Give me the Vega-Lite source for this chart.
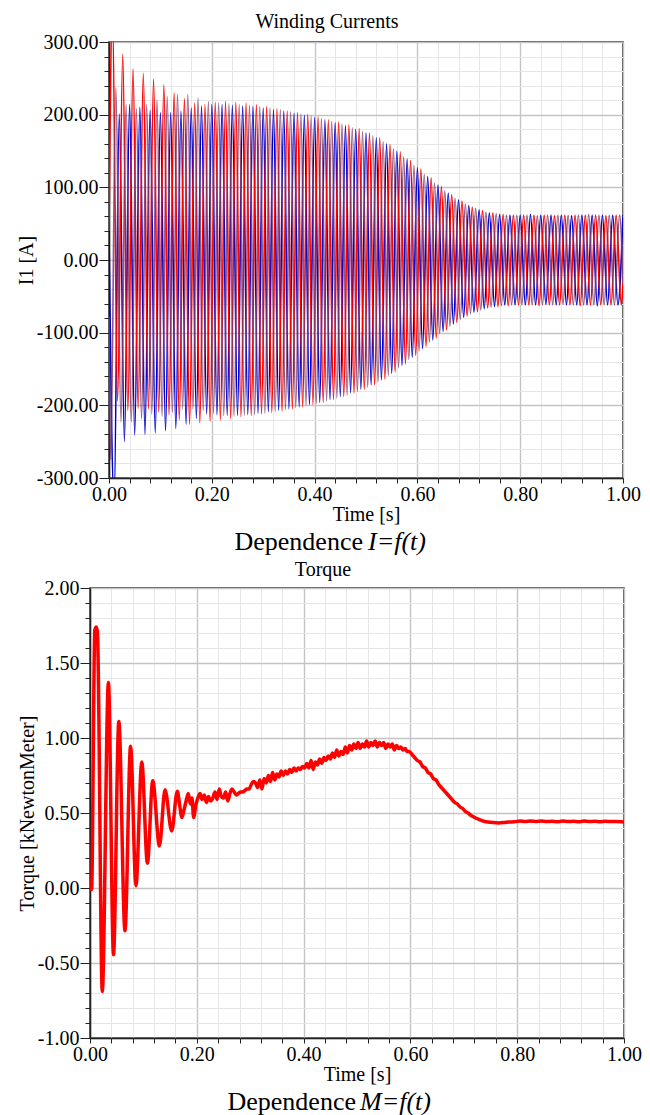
{
"$schema": "https://vega.github.io/schema/vega-lite/v6.json",
"padding": {"left": 15, "top": 11, "right": 0, "bottom": 0},
"background": "white",
"spacing": 0,
"config": {
  "font": "Liberation Serif",
  "view": {"stroke": "#222", "strokeWidth": 1.5},
  "axis": {"labelFont": "Liberation Serif", "labelFontSize": 20, "labelColor": "#000", "titleFont": "Liberation Serif", "titleFontSize": 20, "titleFontWeight": "normal", "titleColor": "#000", "domainColor": "#222", "domainWidth": 1.5, "tickColor": "#222", "tickWidth": 1, "grid": true, "labelOverlap": false, "labelFlush": false, "labelBound": false},
  "title": {"font": "Liberation Serif", "fontSize": 20, "fontWeight": "normal", "color": "#000", "anchor": "middle"}
},
"vconcat": [
{"spacing": -76, "hconcat": [
{"width": 1, "height": 1, "view": {"stroke": null}, "data": {"values": [{"a": ""}]}, "mark": {"type": "text"}, "encoding": {"text": {"field": "a"}}},
{
  "width": 514, "height": 436,
  "title": {"text": "Winding Currents", "dx": -39, "offset": 0},
  "encoding": {
    "x": {"field": "t", "type": "quantitative", "scale": {"domain": [0, 1], "nice": false, "zero": false},
      "axis": {"title": "Time [s]", "values": [0,0.04,0.08,0.12,0.16,0.2,0.24,0.28,0.32,0.36,0.4,0.44,0.48,0.52,0.56,0.6,0.64,0.68,0.72,0.76,0.8,0.84,0.88,0.92,0.96,1],
        "labelExpr": "abs(datum.value*5-round(datum.value*5))<0.001 ? format(datum.value,'.2f') : ''",
        "labelPadding": 1, "tickSize": 5, "titlePadding": 0,
        "gridColor": {"condition": {"test": "abs(datum.value*5-round(datum.value*5))<0.001", "value": "#c4c4c4"}, "value": "#e6e6e6"},
        "gridWidth": {"condition": {"test": "abs(datum.value*5-round(datum.value*5))<0.001", "value": 1.4}, "value": 1}}},
    "y": {"field": "i", "type": "quantitative", "scale": {"domain": [-300, 300], "nice": false},
      "axis": {"title": "I1 [A]", "values": [-300,-280,-260,-240,-220,-200,-180,-160,-140,-120,-100,-80,-60,-40,-20,0,20,40,60,80,100,120,140,160,180,200,220,240,260,280,300],
        "labelExpr": "abs(datum.value/100-round(datum.value/100))<0.001 ? (datum.value<0 ? '-' : '') + format(abs(datum.value),'.2f') : ''",
        "labelPadding": 1, "titlePadding": 0,
        "tickSize": {"condition": {"test": "abs(datum.value/100-round(datum.value/100))<0.001", "value": 10}, "value": 5},
        "gridColor": {"condition": {"test": "abs(datum.value/100-round(datum.value/100))<0.001", "value": "#c4c4c4"}, "value": "#e6e6e6"},
        "gridWidth": {"condition": {"test": "abs(datum.value/100-round(datum.value/100))<0.001", "value": 1.4}, "value": 1}}}
  },
  "layer": [
    {"data": {"values": [{"t":0,"i":38},{"t":0.01,"i":-335},{"t":0.02,"i":201},{"t":0.03,"i":-250},{"t":0.04,"i":214},{"t":0.05,"i":-241},{"t":0.06,"i":210},{"t":0.07,"i":-240},{"t":0.08,"i":206},{"t":0.09,"i":-238},{"t":0.1,"i":203},{"t":0.11,"i":-235},{"t":0.12,"i":203},{"t":0.13,"i":-232},{"t":0.14,"i":205},{"t":0.15,"i":-226},{"t":0.16,"i":209},{"t":0.17,"i":-218},{"t":0.18,"i":212},{"t":0.19,"i":-212},{"t":0.2,"i":214},{"t":0.21,"i":-213},{"t":0.22,"i":214},{"t":0.23,"i":-214},{"t":0.24,"i":213},{"t":0.25,"i":-214},{"t":0.26,"i":212},{"t":0.27,"i":-213},{"t":0.28,"i":211},{"t":0.29,"i":-211},{"t":0.3,"i":209},{"t":0.31,"i":-209},{"t":0.32,"i":207},{"t":0.33,"i":-207},{"t":0.34,"i":205},{"t":0.35,"i":-205},{"t":0.36,"i":202},{"t":0.37,"i":-202},{"t":0.38,"i":199},{"t":0.39,"i":-199},{"t":0.4,"i":196},{"t":0.41,"i":-196},{"t":0.42,"i":193},{"t":0.43,"i":-192},{"t":0.44,"i":189},{"t":0.45,"i":-188},{"t":0.46,"i":185},{"t":0.47,"i":-183},{"t":0.48,"i":180},{"t":0.49,"i":-178},{"t":0.5,"i":175},{"t":0.51,"i":-172},{"t":0.52,"i":168},{"t":0.53,"i":-165},{"t":0.54,"i":160},{"t":0.55,"i":-156},{"t":0.56,"i":150},{"t":0.57,"i":-145},{"t":0.58,"i":139},{"t":0.59,"i":-134},{"t":0.6,"i":127},{"t":0.61,"i":-122},{"t":0.62,"i":115},{"t":0.63,"i":-110},{"t":0.64,"i":103},{"t":0.65,"i":-98},{"t":0.66,"i":92},{"t":0.67,"i":-88},{"t":0.68,"i":83},{"t":0.69,"i":-79},{"t":0.7,"i":75},{"t":0.71,"i":-72},{"t":0.72,"i":69},{"t":0.73,"i":-67},{"t":0.74,"i":65},{"t":0.75,"i":-64},{"t":0.76,"i":63},{"t":0.77,"i":-62},{"t":0.78,"i":62},{"t":0.79,"i":-62},{"t":0.8,"i":62},{"t":0.81,"i":-62},{"t":0.82,"i":63},{"t":0.83,"i":-62},{"t":0.84,"i":62},{"t":0.85,"i":-61},{"t":0.86,"i":62},{"t":0.87,"i":-62},{"t":0.88,"i":62},{"t":0.89,"i":-62},{"t":0.9,"i":61},{"t":0.91,"i":-62},{"t":0.92,"i":62},{"t":0.93,"i":-62},{"t":0.94,"i":62},{"t":0.95,"i":-63},{"t":0.96,"i":62},{"t":0.97,"i":-62},{"t":0.98,"i":62},{"t":0.99,"i":-62},{"t":1,"i":62}]},
     "mark": {"type": "line", "color": "#0000CC", "strokeWidth": 1.6, "interpolate": "monotone", "clip": true}},
    {"data": {"values": [{"t":0,"i":40},{"t":0.0067,"i":345},{"t":0.0167,"i":-194},{"t":0.0267,"i":283},{"t":0.0367,"i":-207},{"t":0.0467,"i":263},{"t":0.0567,"i":-204},{"t":0.0667,"i":257},{"t":0.0767,"i":-205},{"t":0.0867,"i":249},{"t":0.0967,"i":-209},{"t":0.1067,"i":241},{"t":0.1167,"i":-213},{"t":0.1267,"i":230},{"t":0.1367,"i":-220},{"t":0.1467,"i":222},{"t":0.1567,"i":-226},{"t":0.1667,"i":216},{"t":0.1767,"i":-224},{"t":0.1867,"i":214},{"t":0.1967,"i":-222},{"t":0.2067,"i":217},{"t":0.2167,"i":-220},{"t":0.2267,"i":218},{"t":0.2367,"i":-218},{"t":0.2467,"i":217},{"t":0.2567,"i":-216},{"t":0.2667,"i":216},{"t":0.2767,"i":-214},{"t":0.2867,"i":214},{"t":0.2967,"i":-212},{"t":0.3067,"i":211},{"t":0.3167,"i":-210},{"t":0.3267,"i":208},{"t":0.3367,"i":-208},{"t":0.3467,"i":205},{"t":0.3567,"i":-205},{"t":0.3667,"i":203},{"t":0.3767,"i":-202},{"t":0.3867,"i":200},{"t":0.3967,"i":-199},{"t":0.4067,"i":197},{"t":0.4167,"i":-196},{"t":0.4267,"i":193},{"t":0.4367,"i":-192},{"t":0.4467,"i":190},{"t":0.4567,"i":-188},{"t":0.4667,"i":186},{"t":0.4767,"i":-183},{"t":0.4867,"i":181},{"t":0.4967,"i":-178},{"t":0.5067,"i":175},{"t":0.5167,"i":-172},{"t":0.5267,"i":168},{"t":0.5367,"i":-164},{"t":0.5467,"i":159},{"t":0.5567,"i":-154},{"t":0.5667,"i":149},{"t":0.5767,"i":-143},{"t":0.5867,"i":137},{"t":0.5967,"i":-131},{"t":0.6067,"i":125},{"t":0.6167,"i":-119},{"t":0.6267,"i":113},{"t":0.6367,"i":-107},{"t":0.6467,"i":101},{"t":0.6567,"i":-96},{"t":0.6667,"i":90},{"t":0.6767,"i":-86},{"t":0.6867,"i":81},{"t":0.6967,"i":-77},{"t":0.7067,"i":73},{"t":0.7167,"i":-71},{"t":0.7267,"i":68},{"t":0.7367,"i":-66},{"t":0.7467,"i":65},{"t":0.7567,"i":-64},{"t":0.7667,"i":63},{"t":0.7767,"i":-63},{"t":0.7867,"i":62},{"t":0.7967,"i":-62},{"t":0.8067,"i":62},{"t":0.8167,"i":-62},{"t":0.8267,"i":62},{"t":0.8367,"i":-63},{"t":0.8467,"i":62},{"t":0.8567,"i":-62},{"t":0.8667,"i":61},{"t":0.8767,"i":-62},{"t":0.8867,"i":62},{"t":0.8967,"i":-62},{"t":0.9067,"i":62},{"t":0.9167,"i":-63},{"t":0.9267,"i":62},{"t":0.9367,"i":-62},{"t":0.9467,"i":62},{"t":0.9567,"i":-62},{"t":0.9667,"i":61},{"t":0.9767,"i":-62},{"t":0.9867,"i":62},{"t":0.9967,"i":-62},{"t":1,"i":-31}]},
     "mark": {"type": "line", "color": "#FF0000", "strokeWidth": 1.6, "interpolate": "monotone", "clip": true}},
    {"data": {"values": [{"t":0,"i":-78},{"t":0.0033,"i":-275},{"t":0.0133,"i":237},{"t":0.0233,"i":-223},{"t":0.0333,"i":214},{"t":0.0433,"i":-223},{"t":0.0533,"i":208},{"t":0.0633,"i":-219},{"t":0.0733,"i":214},{"t":0.0833,"i":-212},{"t":0.0933,"i":220},{"t":0.1033,"i":-215},{"t":0.1133,"i":225},{"t":0.1233,"i":-210},{"t":0.1333,"i":228},{"t":0.1433,"i":-205},{"t":0.1533,"i":228},{"t":0.1633,"i":-205},{"t":0.1733,"i":223},{"t":0.1833,"i":-207},{"t":0.1933,"i":218},{"t":0.2033,"i":-211},{"t":0.2133,"i":216},{"t":0.2233,"i":-214},{"t":0.2333,"i":215},{"t":0.2433,"i":-215},{"t":0.2533,"i":214},{"t":0.2633,"i":-214},{"t":0.2733,"i":213},{"t":0.2833,"i":-213},{"t":0.2933,"i":211},{"t":0.3033,"i":-211},{"t":0.3133,"i":209},{"t":0.3233,"i":-209},{"t":0.3333,"i":207},{"t":0.3433,"i":-206},{"t":0.3533,"i":204},{"t":0.3633,"i":-203},{"t":0.3733,"i":201},{"t":0.3833,"i":-200},{"t":0.3933,"i":198},{"t":0.4033,"i":-197},{"t":0.4133,"i":195},{"t":0.4233,"i":-194},{"t":0.4333,"i":191},{"t":0.4433,"i":-190},{"t":0.4533,"i":187},{"t":0.4633,"i":-186},{"t":0.4733,"i":182},{"t":0.4833,"i":-181},{"t":0.4933,"i":177},{"t":0.5033,"i":-175},{"t":0.5133,"i":171},{"t":0.5233,"i":-168},{"t":0.5333,"i":163},{"t":0.5433,"i":-159},{"t":0.5533,"i":153},{"t":0.5633,"i":-148},{"t":0.5733,"i":142},{"t":0.5833,"i":-137},{"t":0.5933,"i":130},{"t":0.6033,"i":-125},{"t":0.6133,"i":118},{"t":0.6233,"i":-113},{"t":0.6333,"i":106},{"t":0.6433,"i":-101},{"t":0.6533,"i":95},{"t":0.6633,"i":-91},{"t":0.6733,"i":85},{"t":0.6833,"i":-82},{"t":0.6933,"i":77},{"t":0.7033,"i":-74},{"t":0.7133,"i":71},{"t":0.7233,"i":-69},{"t":0.7333,"i":66},{"t":0.7433,"i":-65},{"t":0.7533,"i":64},{"t":0.7633,"i":-63},{"t":0.7733,"i":62},{"t":0.7833,"i":-62},{"t":0.7933,"i":62},{"t":0.8033,"i":-62},{"t":0.8133,"i":62},{"t":0.8233,"i":-62},{"t":0.8333,"i":61},{"t":0.8433,"i":-62},{"t":0.8533,"i":62},{"t":0.8633,"i":-62},{"t":0.8733,"i":62},{"t":0.8833,"i":-61},{"t":0.8933,"i":62},{"t":0.9033,"i":-62},{"t":0.9133,"i":62},{"t":0.9233,"i":-62},{"t":0.9333,"i":63},{"t":0.9433,"i":-62},{"t":0.9533,"i":62},{"t":0.9633,"i":-62},{"t":0.9733,"i":62},{"t":0.9833,"i":-62},{"t":0.9933,"i":62},{"t":1,"i":-31}]},
     "mark": {"type": "line", "color": "#7E3A6A", "opacity": 0.85, "strokeWidth": 1.6, "interpolate": "monotone", "clip": true}}
  ]
}]},
{
  "width": 490, "height": 34,
  "view": {"stroke": null},
  "data": {"values": [{"a": "Dependence", "b": "I=f(t)"}]},
  "layer": [
    {"mark": {"type": "text", "align": "right", "baseline": "middle", "fontSize": 26, "font": "Liberation Serif", "color": "#000", "dx": 28}, "encoding": {"text": {"field": "a"}}},
    {"mark": {"type": "text", "align": "left", "baseline": "middle", "fontSize": 26, "font": "Liberation Serif", "fontStyle": "italic", "color": "#000", "dx": 33}, "encoding": {"text": {"field": "b"}}}
  ]
},
{"hconcat": [
{
  "width": 534, "height": 450,
  "title": {"text": "Torque", "dx": -34, "offset": -2},
  "data": {"values": [{"t":0,"m":0},{"t":0.003,"m":-0.01},{"t":0.009,"m":1.72},{"t":0.012,"m":1.74},{"t":0.014,"m":1.7},{"t":0.023,"m":-0.69},{"t":0.0345,"m":1.37},{"t":0.044,"m":-0.445},{"t":0.054,"m":1.11},{"t":0.0655,"m":-0.285},{"t":0.076,"m":0.945},{"t":0.086,"m":0.015},{"t":0.097,"m":0.84},{"t":0.1075,"m":0.165},{"t":0.1175,"m":0.715},{"t":0.13,"m":0.28},{"t":0.1405,"m":0.655},{"t":0.153,"m":0.38},{"t":0.1635,"m":0.645},{"t":0.168,"m":0.55},{"t":0.172,"m":0.47},{"t":0.176,"m":0.52},{"t":0.18,"m":0.58},{"t":0.184,"m":0.63},{"t":0.188,"m":0.56},{"t":0.191,"m":0.6},{"t":0.194,"m":0.47},{"t":0.198,"m":0.55},{"t":0.202,"m":0.6},{"t":0.206,"m":0.63},{"t":0.21,"m":0.59},{"t":0.214,"m":0.62},{"t":0.218,"m":0.57},{"t":0.222,"m":0.61},{"t":0.226,"m":0.58},{"t":0.23,"m":0.6},{"t":0.234,"m":0.64},{"t":0.238,"m":0.59},{"t":0.242,"m":0.66},{"t":0.246,"m":0.61},{"t":0.25,"m":0.6},{"t":0.254,"m":0.64},{"t":0.258,"m":0.58},{"t":0.262,"m":0.63},{"t":0.266,"m":0.66},{"t":0.27,"m":0.64},{"t":0.274,"m":0.62},{"t":0.278,"m":0.63},{"t":0.282,"m":0.64},{"t":0.286,"m":0.64},{"t":0.29,"m":0.65},{"t":0.294,"m":0.66},{"t":0.298,"m":0.66},{"t":0.302,"m":0.69},{"t":0.306,"m":0.71},{"t":0.31,"m":0.7},{"t":0.314,"m":0.67},{"t":0.318,"m":0.72},{"t":0.322,"m":0.66},{"t":0.326,"m":0.73},{"t":0.33,"m":0.7},{"t":0.334,"m":0.75},{"t":0.338,"m":0.71},{"t":0.342,"m":0.77},{"t":0.346,"m":0.72},{"t":0.35,"m":0.76},{"t":0.354,"m":0.74},{"t":0.358,"m":0.78},{"t":0.362,"m":0.75},{"t":0.366,"m":0.78},{"t":0.37,"m":0.76},{"t":0.374,"m":0.79},{"t":0.378,"m":0.77},{"t":0.382,"m":0.8},{"t":0.386,"m":0.78},{"t":0.39,"m":0.8},{"t":0.394,"m":0.79},{"t":0.398,"m":0.81},{"t":0.402,"m":0.8},{"t":0.406,"m":0.83},{"t":0.41,"m":0.8},{"t":0.414,"m":0.85},{"t":0.418,"m":0.79},{"t":0.422,"m":0.84},{"t":0.426,"m":0.82},{"t":0.43,"m":0.86},{"t":0.434,"m":0.83},{"t":0.438,"m":0.87},{"t":0.442,"m":0.85},{"t":0.446,"m":0.88},{"t":0.45,"m":0.86},{"t":0.454,"m":0.9},{"t":0.458,"m":0.87},{"t":0.462,"m":0.92},{"t":0.466,"m":0.88},{"t":0.47,"m":0.91},{"t":0.474,"m":0.89},{"t":0.478,"m":0.94},{"t":0.482,"m":0.9},{"t":0.486,"m":0.95},{"t":0.49,"m":0.92},{"t":0.494,"m":0.96},{"t":0.498,"m":0.93},{"t":0.502,"m":0.97},{"t":0.506,"m":0.93},{"t":0.51,"m":0.96},{"t":0.514,"m":0.94},{"t":0.518,"m":0.98},{"t":0.522,"m":0.94},{"t":0.526,"m":0.97},{"t":0.53,"m":0.95},{"t":0.534,"m":0.98},{"t":0.538,"m":0.94},{"t":0.542,"m":0.97},{"t":0.546,"m":0.95},{"t":0.55,"m":0.97},{"t":0.554,"m":0.93},{"t":0.558,"m":0.96},{"t":0.562,"m":0.94},{"t":0.566,"m":0.96},{"t":0.57,"m":0.92},{"t":0.574,"m":0.95},{"t":0.578,"m":0.93},{"t":0.582,"m":0.94},{"t":0.586,"m":0.92},{"t":0.59,"m":0.93},{"t":0.594,"m":0.91},{"t":0.598,"m":0.91},{"t":0.603,"m":0.89},{"t":0.608,"m":0.87},{"t":0.613,"m":0.85},{"t":0.618,"m":0.84},{"t":0.623,"m":0.81},{"t":0.628,"m":0.8},{"t":0.633,"m":0.77},{"t":0.638,"m":0.76},{"t":0.643,"m":0.73},{"t":0.648,"m":0.72},{"t":0.653,"m":0.69},{"t":0.658,"m":0.67},{"t":0.663,"m":0.65},{"t":0.668,"m":0.63},{"t":0.673,"m":0.61},{"t":0.678,"m":0.59},{"t":0.683,"m":0.57},{"t":0.688,"m":0.56},{"t":0.693,"m":0.54},{"t":0.698,"m":0.53},{"t":0.703,"m":0.51},{"t":0.708,"m":0.5},{"t":0.713,"m":0.485},{"t":0.718,"m":0.475},{"t":0.723,"m":0.465},{"t":0.728,"m":0.458},{"t":0.735,"m":0.448},{"t":0.745,"m":0.44},{"t":0.755,"m":0.436},{"t":0.765,"m":0.434},{"t":0.775,"m":0.436},{"t":0.785,"m":0.44},{"t":0.795,"m":0.441},{"t":0.805,"m":0.447},{"t":0.815,"m":0.443},{"t":0.825,"m":0.446},{"t":0.835,"m":0.444},{"t":0.845,"m":0.447},{"t":0.855,"m":0.443},{"t":0.865,"m":0.445},{"t":0.875,"m":0.442},{"t":0.885,"m":0.446},{"t":0.895,"m":0.443},{"t":0.905,"m":0.445},{"t":0.915,"m":0.442},{"t":0.925,"m":0.446},{"t":0.935,"m":0.443},{"t":0.945,"m":0.445},{"t":0.955,"m":0.442},{"t":0.965,"m":0.445},{"t":0.975,"m":0.443},{"t":0.985,"m":0.444},{"t":0.995,"m":0.442},{"t":1,"m":0.44}]},
  "mark": {"type": "line", "color": "#FF0000", "strokeWidth": 3.5, "interpolate": "monotone", "clip": true},
  "encoding": {
    "x": {"field": "t", "type": "quantitative", "scale": {"domain": [0, 1], "nice": false, "zero": false},
      "axis": {"title": "Time [s]", "values": [0,0.04,0.08,0.12,0.16,0.2,0.24,0.28,0.32,0.36,0.4,0.44,0.48,0.52,0.56,0.6,0.64,0.68,0.72,0.76,0.8,0.84,0.88,0.92,0.96,1],
        "labelExpr": "abs(datum.value*5-round(datum.value*5))<0.001 ? format(datum.value,'.2f') : ''",
        "labelPadding": 1, "tickSize": 5, "titlePadding": 0,
        "gridColor": {"condition": {"test": "abs(datum.value*5-round(datum.value*5))<0.001", "value": "#c4c4c4"}, "value": "#e6e6e6"},
        "gridWidth": {"condition": {"test": "abs(datum.value*5-round(datum.value*5))<0.001", "value": 1.4}, "value": 1}}},
    "y": {"field": "m", "type": "quantitative", "scale": {"domain": [-1, 2], "nice": false, "zero": false},
      "axis": {"title": "Torque [kNewtonMeter]", "values": [-1,-0.9,-0.8,-0.7,-0.6,-0.5,-0.4,-0.3,-0.2,-0.1,0,0.1,0.2,0.3,0.4,0.5,0.6,0.7,0.8,0.9,1,1.1,1.2,1.3,1.4,1.5,1.6,1.7,1.8,1.9,2],
        "labelExpr": "abs(datum.value*2-round(datum.value*2))<0.001 ? (datum.value<0 ? '-' : '') + format(abs(datum.value),'.2f') : ''",
        "labelPadding": 1, "titlePadding": 0,
        "tickSize": {"condition": {"test": "abs(datum.value*2-round(datum.value*2))<0.001", "value": 10}, "value": 5},
        "gridColor": {"condition": {"test": "abs(datum.value*2-round(datum.value*2))<0.001", "value": "#c4c4c4"}, "value": "#e6e6e6"},
        "gridWidth": {"condition": {"test": "abs(datum.value*2-round(datum.value*2))<0.001", "value": 1.4}, "value": 1}}}
  }
}]},
{
  "width": 490, "height": 28,
  "view": {"stroke": null},
  "data": {"values": [{"a": "Dependence", "b": "M=f(t)"}]},
  "layer": [
    {"mark": {"type": "text", "align": "right", "baseline": "middle", "fontSize": 26, "font": "Liberation Serif", "color": "#000", "dx": 21, "dy": 3}, "encoding": {"text": {"field": "a"}}},
    {"mark": {"type": "text", "align": "left", "baseline": "middle", "fontSize": 26, "font": "Liberation Serif", "fontStyle": "italic", "color": "#000", "dx": 25, "dy": 3}, "encoding": {"text": {"field": "b"}}}
  ]
}
]
}
